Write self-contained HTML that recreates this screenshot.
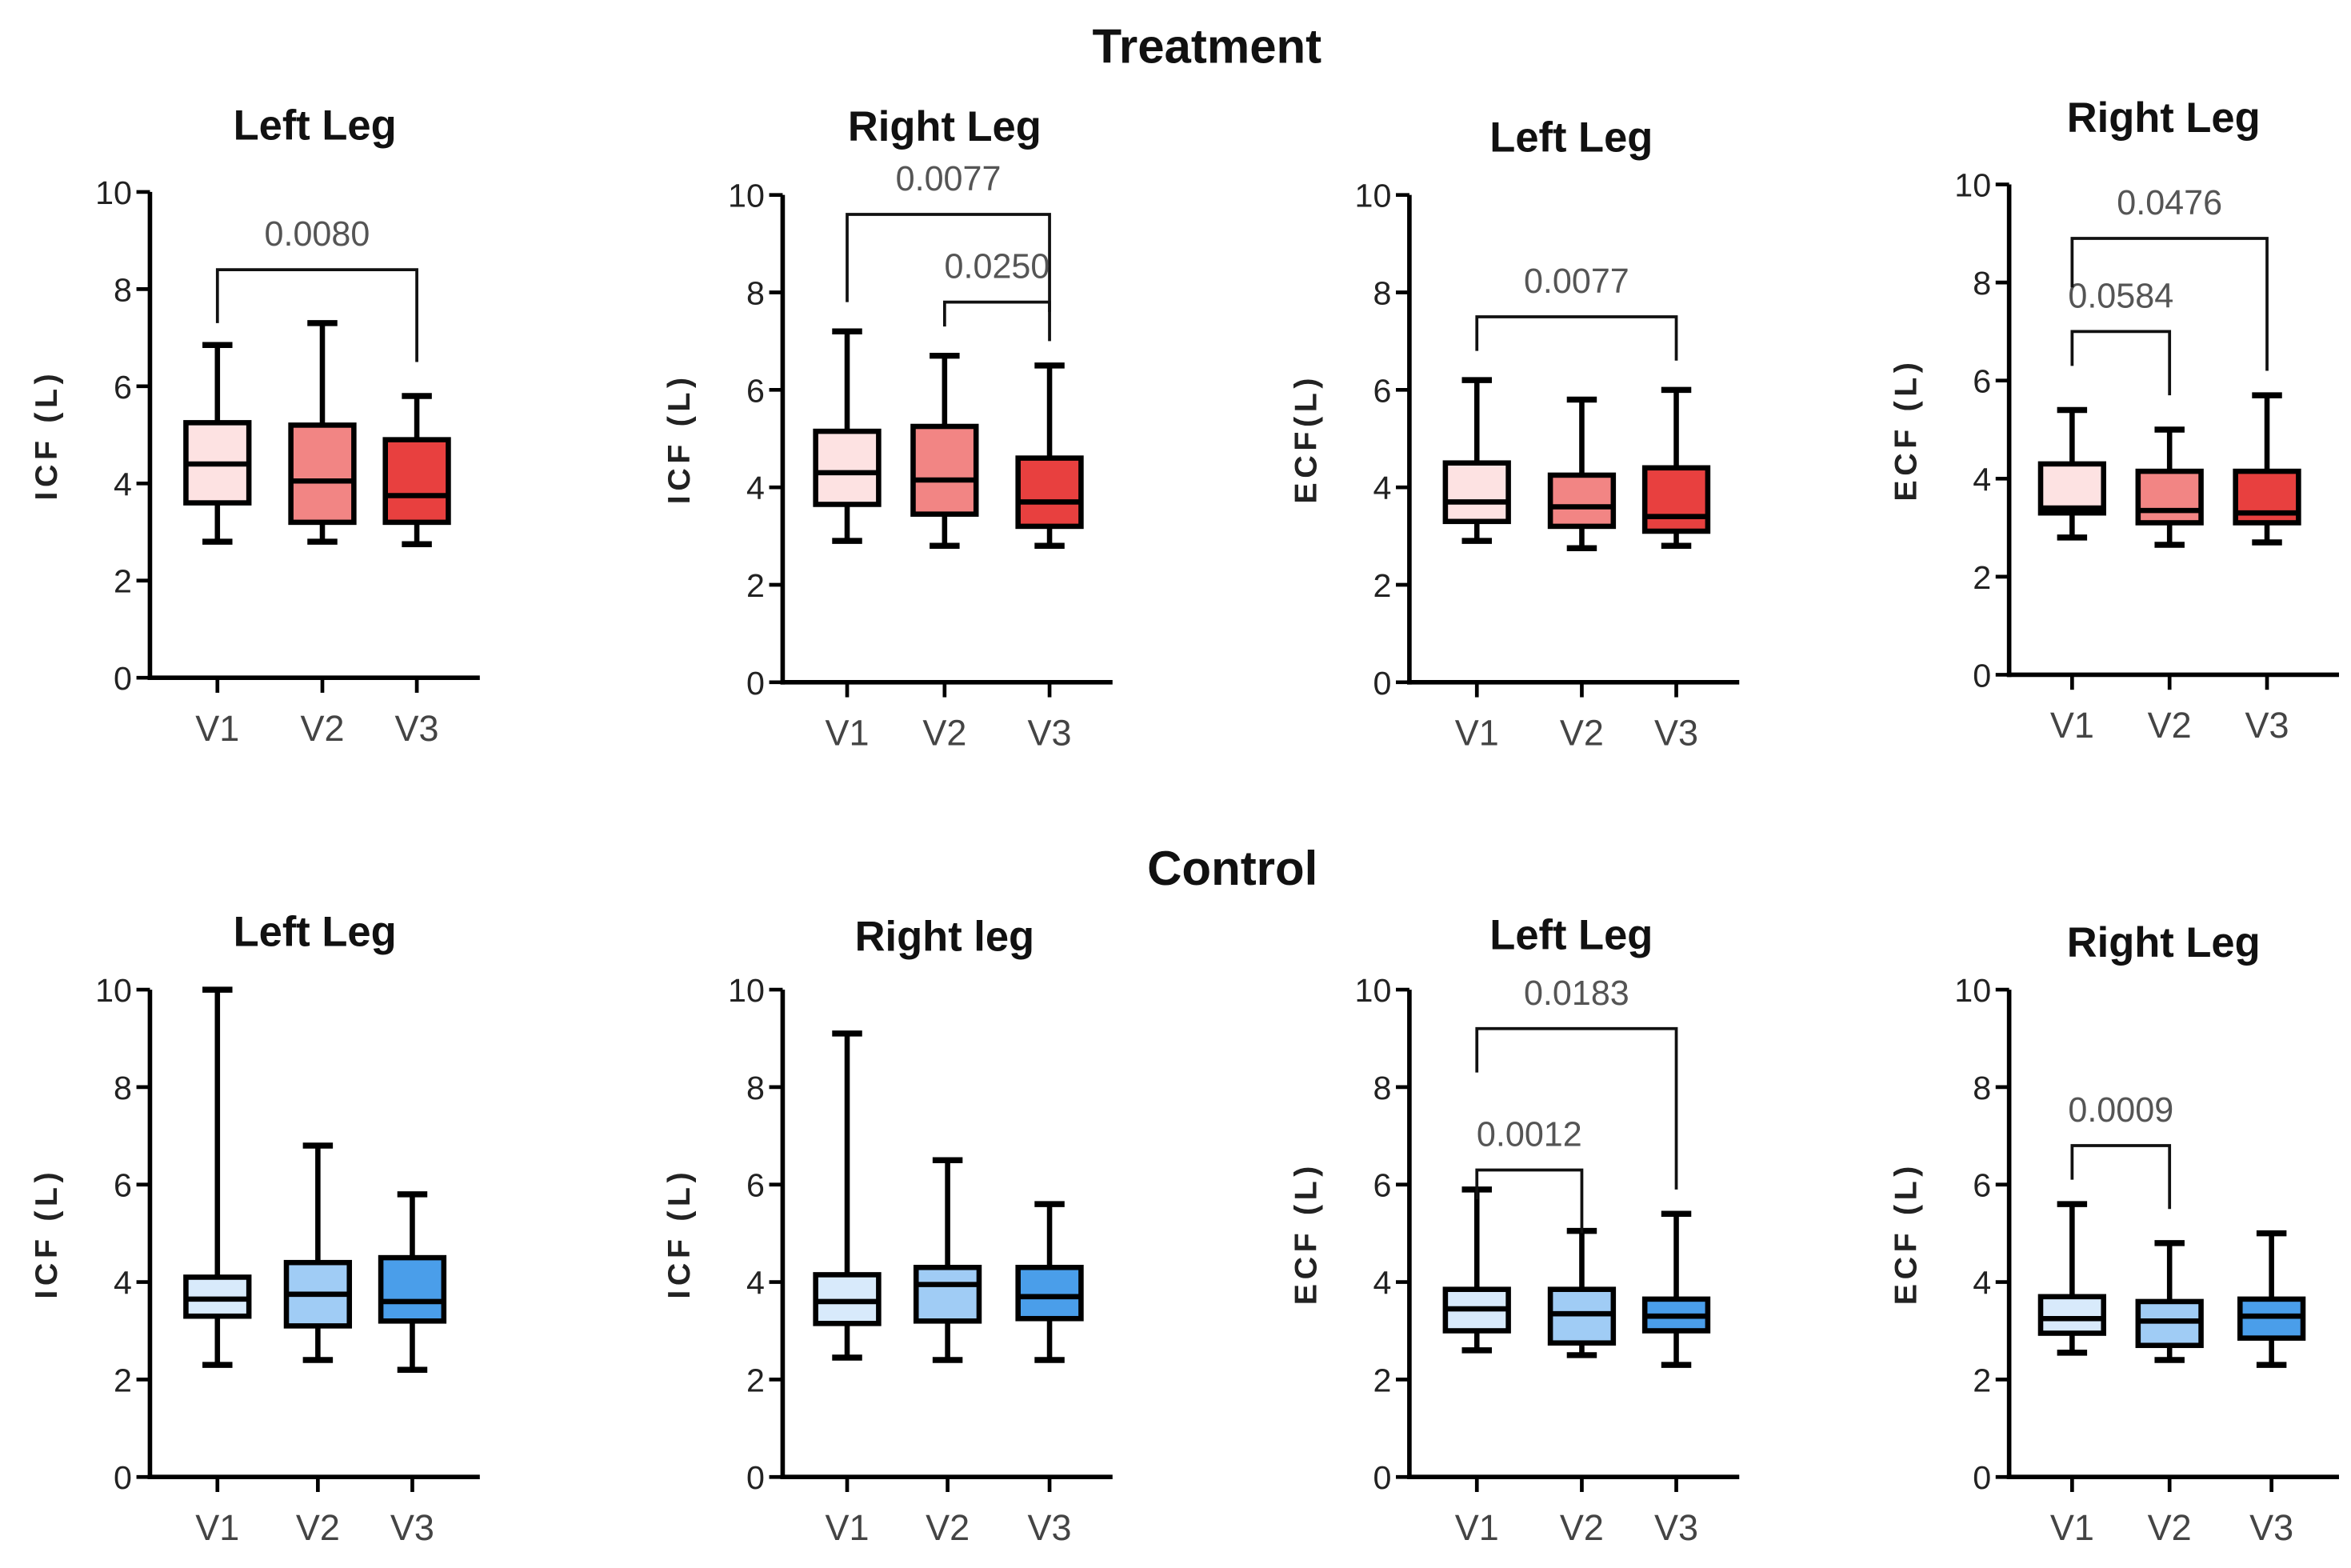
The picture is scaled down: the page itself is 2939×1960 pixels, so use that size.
<!DOCTYPE html>
<html><head><meta charset="utf-8"><style>
html,body{margin:0;padding:0;background:#fff}
svg{display:block}
text{font-family:"Liberation Sans",sans-serif}
</style></head><body>
<svg id="fig" width="2939" height="1960" viewBox="0 0 1568 1045.7" xmlns="http://www.w3.org/2000/svg">
<text x="805" y="42" font-size="32" font-weight="bold" text-anchor="middle" fill="#111">Treatment</text>
<text x="822" y="590" font-size="32" font-weight="bold" text-anchor="middle" fill="#111">Control</text>
</svg>
<script>
const categories=["V1","V2","V3"];
const yTicks=[0,2,4,6,8,10];
const panelTitles=["Left Leg","Right Leg","Left Leg","Right Leg","Left Leg","Right leg","Left Leg","Right Leg"];
const yLabels=["ICF (L)","ICF (L)","ECF(L)","ECF (L)","ICF (L)","ICF (L)","ECF (L)","ECF (L)"];
// each box: [min,q1,median,q3,max]
const p1=[[2.8,3.6,4.4,5.25,6.85],[2.8,3.2,4.05,5.2,7.3],[2.75,3.2,3.75,4.9,5.8]];
const p2=[[2.9,3.65,4.3,5.15,7.2],[2.8,3.45,4.15,5.25,6.7],[2.8,3.2,3.7,4.6,6.5]];
const p3=[[2.9,3.3,3.7,4.5,6.2],[2.75,3.2,3.6,4.25,5.8],[2.8,3.1,3.4,4.4,6.0]];
const p4=[[2.8,3.3,3.4,4.3,5.4],[2.65,3.1,3.35,4.15,5.0],[2.7,3.1,3.3,4.15,5.7]];
const p5=[[2.3,3.3,3.65,4.1,10],[2.4,3.1,3.75,4.4,6.8],[2.2,3.2,3.6,4.5,5.8]];
const p6=[[2.45,3.15,3.6,4.15,9.1],[2.4,3.2,3.95,4.3,6.5],[2.4,3.25,3.7,4.3,5.6]];
const p7=[[2.6,3.0,3.45,3.85,5.9],[2.5,2.75,3.35,3.85,5.05],[2.3,3.0,3.3,3.65,5.4]];
const p8=[[2.55,2.95,3.25,3.7,5.6],[2.4,2.7,3.2,3.6,4.8],[2.3,2.85,3.3,3.65,5.0]];
const panelData=[p1,p2,p3,p4,p5,p6,p7,p8];
// brackets: [fromIdx,toIdx,level,label,leftDrop,rightDrop]
const b1=[[0,2,8.4,"0.0080",7.3,6.5]];
const b2=[[0,2,9.6,"0.0077",7.8,7.6],[1,2,7.8,"0.0250",7.3,7.0]];
const b3=[[0,2,7.5,"0.0077",6.8,6.6]];
const b4=[[0,1,7.0,"0.0584",6.3,5.7],[0,2,8.9,"0.0476",7.9,6.2]];
const b7=[[0,1,6.3,"0.0012",5.7,5.0],[0,2,9.2,"0.0183",8.3,5.9]];
const b8=[[0,1,6.8,"0.0009",6.1,5.5]];
const panelBrackets=[b1,b2,b3,b4,[],[],b7,b8];
const layout=[
 {ax:100,y0:452,y10:128,xs:[145,215,278],tx:210,ty:93},
 {ax:522,y0:455,y10:130,xs:[565,630,700],tx:630,ty:94},
 {ax:940,y0:455,y10:130,xs:[985,1055,1118],tx:1048,ty:101},
 {ax:1340,y0:450,y10:123,xs:[1382,1447,1512],tx:1443,ty:88},
 {ax:100,y0:985,y10:660,xs:[145,212,275],tx:210,ty:631},
 {ax:522,y0:985,y10:660,xs:[565,632,700],tx:630,ty:634},
 {ax:940,y0:985,y10:660,xs:[985,1055,1118],tx:1048,ty:633},
 {ax:1340,y0:985,y10:660,xs:[1382,1447,1515],tx:1443,ty:638}];
const redFill=["#fde2e2","#f28584","#e8403f"];
const blueFill=["#d8eafb","#a0ccf5","#4a9eea"];
const NS="http://www.w3.org/2000/svg";
const svg=document.getElementById('fig');
function mk(tag,attrs,parent){const e=document.createElementNS(NS,tag);for(const k in attrs)e.setAttribute(k,attrs[k]);(parent||svg).appendChild(e);return e;}
panelData.forEach((data,pi)=>{
 const L=layout[pi];
 const y=v=>L.y0-(L.y0-L.y10)*v/10;
 const g=mk('g',{});
 
 
 const t=mk('text',{x:L.tx,y:L.ty,'font-size':28,'font-weight':'bold','text-anchor':'middle',fill:'#111'},g);
 t.textContent=panelTitles[pi];
 
 
 const yl=mk('text',{transform:`translate(${L.ax-62},${(L.y0+L.y10)/2}) rotate(-90)`,'font-size':21,'font-weight':'bold','text-anchor':'middle',fill:'#222','letter-spacing':3},g);
 yl.textContent=yLabels[pi];
 
 
 const axisEnd=L.ax+220;
 const ya=mk('line',{x1:L.ax,y1:y(0)+1.5,x2:L.ax,y2:y(10),stroke:'#000','stroke-width':3},g);
 
 
 const xa=mk('line',{x1:L.ax-1.5,y1:y(0),x2:axisEnd,y2:y(0),stroke:'#000','stroke-width':3},g);
 
 
 yTicks.forEach(v=>{
  mk('line',{x1:L.ax-9,y1:y(v),x2:L.ax,y2:y(v),stroke:'#000','stroke-width':2.5},g);
  const tl=mk('text',{x:L.ax-12,y:y(v)+8,'font-size':22,'text-anchor':'end',fill:'#222'},g);
  tl.textContent=v;
  
  
 });
 const fills=pi<4?redFill:blueFill;
 categories.forEach((c,ci)=>{
  const x=L.xs[ci];
  mk('line',{x1:x,y1:y(0),x2:x,y2:y(0)+10,stroke:'#000','stroke-width':2.5},g);
  const xl=mk('text',{x:x,y:y(0)+42,'font-size':24,'text-anchor':'middle',fill:'#444'},g);
  xl.textContent=c;
  
  
  const d=data[ci];const hw=21;
  const bg=mk('g',{},g);
  
  
  mk('line',{x1:x,y1:y(d[0]),x2:x,y2:y(d[4]),stroke:'#000','stroke-width':3.5},bg);
  mk('line',{x1:x-10,y1:y(d[0]),x2:x+10,y2:y(d[0]),stroke:'#000','stroke-width':4},bg);
  mk('line',{x1:x-10,y1:y(d[4]),x2:x+10,y2:y(d[4]),stroke:'#000','stroke-width':4},bg);
  mk('rect',{x:x-hw,y:y(d[3]),width:2*hw,height:y(d[1])-y(d[3]),fill:fills[ci],stroke:'#000','stroke-width':3.5},bg);
  mk('line',{x1:x-hw,y1:y(d[2]),x2:x+hw,y2:y(d[2]),stroke:'#000','stroke-width':3.5},bg);
 });
 panelBrackets[pi].forEach(b=>{
  const xa1=L.xs[b[0]],xa2=L.xs[b[1]];
  const br=mk('path',{d:`M${xa1},${y(b[4])} V${y(b[2])} H${xa2} V${y(b[5])}`,fill:'none',stroke:'#111','stroke-width':2},g);
  
  
  const pt=mk('text',{x:(xa1+xa2)/2,y:y(b[2])-16,'font-size':23,'text-anchor':'middle',fill:'#555'},g);
  pt.textContent=b[3];
  
  
 });
});
</script>
</body></html>
